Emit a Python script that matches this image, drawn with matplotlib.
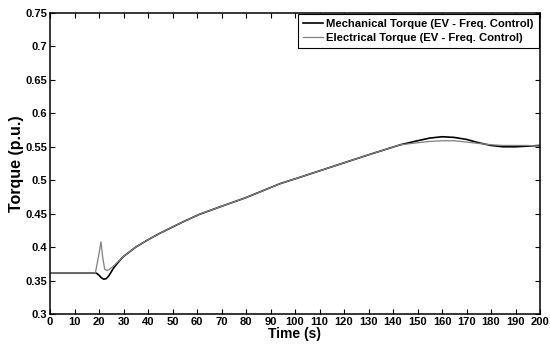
"""Torque response of the EV with frequency control"""

import matplotlib
matplotlib.use("Agg")
import matplotlib.pyplot as plt

plt.rcParams['font.family'] = ['Liberation Sans', 'DejaVu Sans']
plt.rcParams['font.weight'] = 'bold'

# Mechanical torque (p.u.) vs time (s)
t_mech = [0, 19, 20, 21, 22, 23, 24, 25, 26, 28, 30, 35, 40, 45, 50, 55, 61,
          70, 80, 94, 100, 110, 120, 130, 143, 150, 155, 160, 165, 170, 175,
          180, 185, 190, 195, 200]
tq_mech = [0.361, 0.361, 0.358, 0.354, 0.352, 0.353, 0.357, 0.363, 0.369,
           0.378, 0.386, 0.400, 0.411, 0.421, 0.430, 0.439, 0.449, 0.461,
           0.474, 0.495, 0.502, 0.514, 0.526, 0.538, 0.553, 0.559, 0.563,
           0.565, 0.564, 0.561, 0.556, 0.552, 0.550, 0.550, 0.551, 0.552]

# Electrical torque (p.u.) vs time (s)
t_elec = [0, 18.5, 20, 20.8, 21.5, 22.3, 23.2, 24, 25, 26, 28, 30, 35, 40,
          45, 50, 55, 61, 70, 80, 94, 100, 110, 120, 130, 143, 150, 155, 160,
          165, 170, 175, 180, 185, 190, 195, 200]
tq_elec = [0.361, 0.361, 0.390, 0.408, 0.385, 0.367, 0.365, 0.366, 0.369,
           0.372, 0.379, 0.386, 0.400, 0.411, 0.421, 0.430, 0.439, 0.449,
           0.461, 0.474, 0.495, 0.502, 0.514, 0.526, 0.538, 0.553, 0.556,
           0.558, 0.559, 0.559, 0.557, 0.555, 0.553, 0.552, 0.552, 0.552,
           0.551]

x_ticks = list(range(0, 201, 10))
y_ticks = [0.3, 0.35, 0.4, 0.45, 0.5, 0.55, 0.6, 0.65, 0.7, 0.75]
y_labels = ['0.3', '0.35', '0.4', '0.45', '0.5', '0.55', '0.6', '0.65', '0.7', '0.75']

fig = plt.figure(figsize=(5.5, 3.45), dpi=100)
ax = fig.add_axes([50 / 550, 1 - 314 / 345, 490 / 550, 301 / 345])

ax.plot(t_mech, tq_mech, color='black', lw=1.2,
        label='Mechanical Torque (EV - Freq. Control)')
ax.plot(t_elec, tq_elec, color='#808080', lw=0.9,
        label='Electrical Torque (EV - Freq. Control)')

ax.set_xlim(0, 200)
ax.set_ylim(0.3, 0.75)
ax.set_xticks(x_ticks)
ax.set_yticks(y_ticks)
ax.set_yticklabels(y_labels)
ax.tick_params(direction='in', top=True, right=True, length=3.5, width=0.8,
               labelsize=8, pad=2)
for lbl in ax.get_xticklabels() + ax.get_yticklabels():
    lbl.set_fontweight('bold')
for sp in ax.spines.values():
    sp.set_linewidth(1.1)

ax.set_xlabel('Time (s)', fontsize=10, fontweight='bold', labelpad=0.5)
ax.set_ylabel('Torque (p.u.)', fontsize=11.5, fontweight='bold', labelpad=1)

leg = ax.legend(loc='upper right', handlelength=1.8,
                handletextpad=0.3, borderpad=0.45, labelspacing=0.3,
                fancybox=False, framealpha=1, borderaxespad=0.1,
                prop={'weight': 'bold', 'size': 8.1})
leg.get_frame().set_edgecolor('black')
leg.get_frame().set_linewidth(0.8)

plt.savefig('out.png', dpi=100)
